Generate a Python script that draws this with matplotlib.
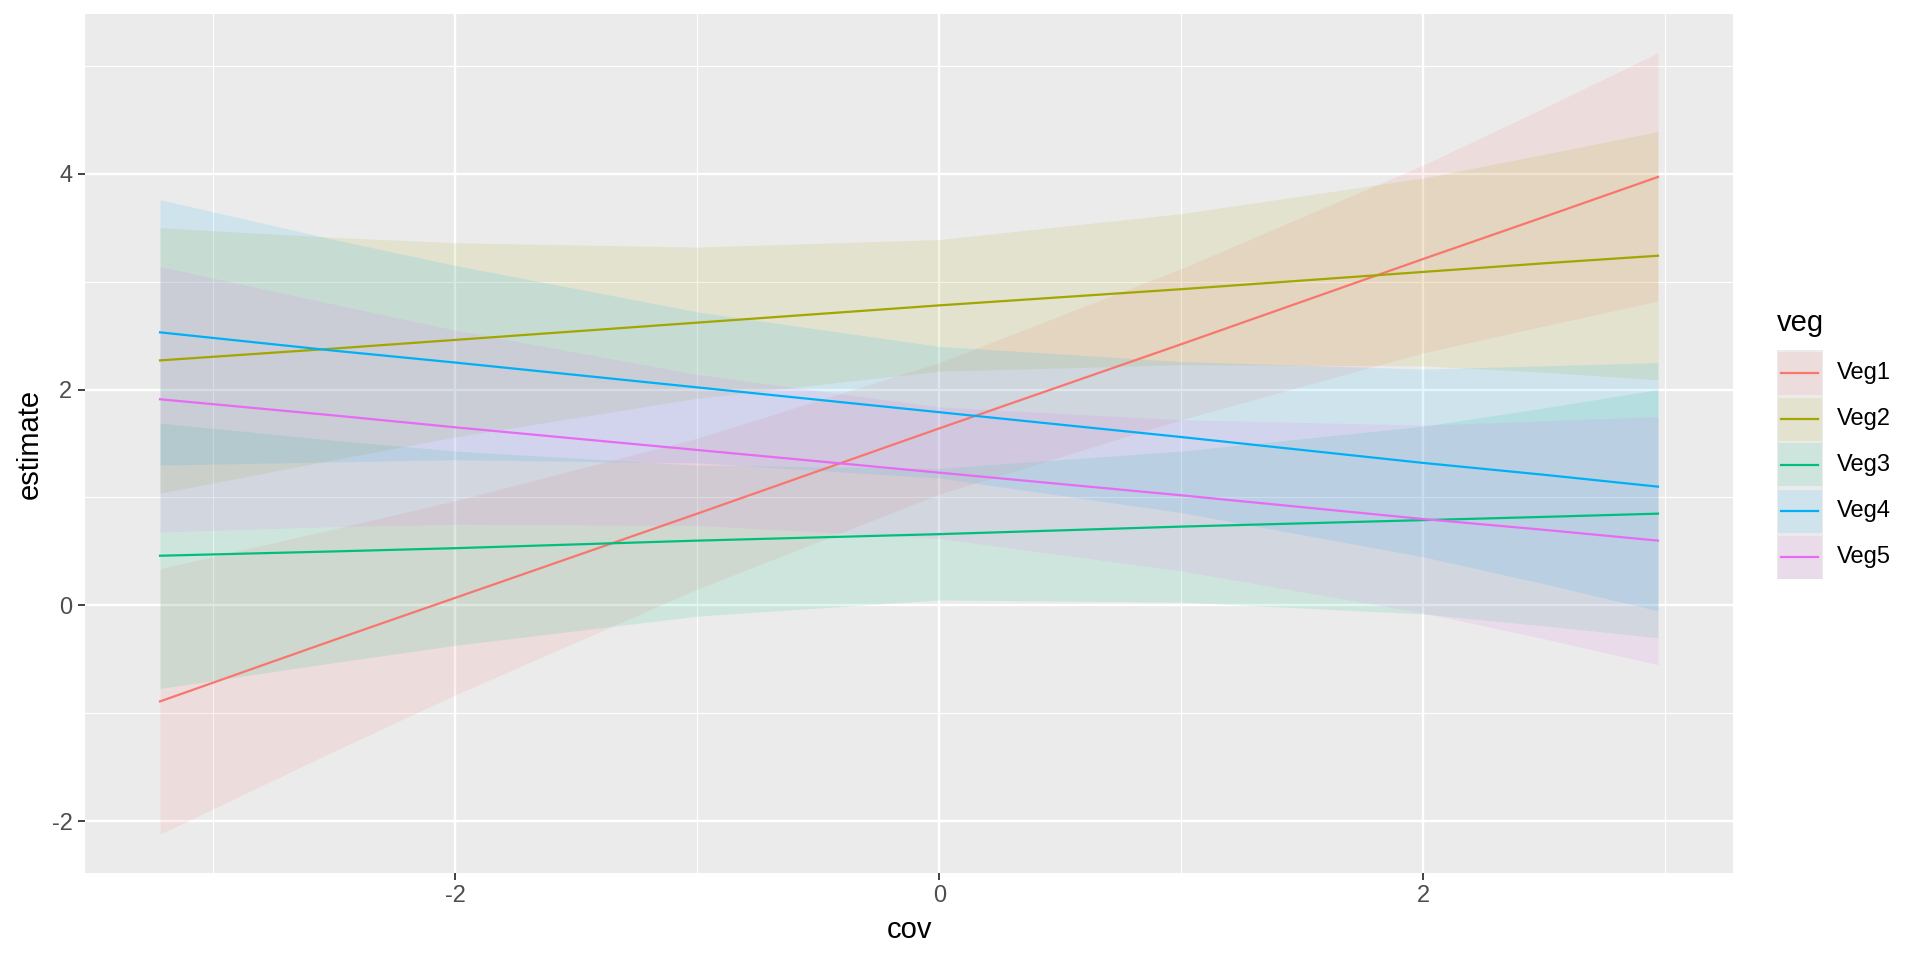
import matplotlib
matplotlib.use("Agg")
import matplotlib.pyplot as plt
from matplotlib.patches import Rectangle
from matplotlib.lines import Line2D

plt.rcParams['font.family'] = ['Liberation Sans', 'DejaVu Sans']

# ---- data ----
cov = [-3.22, -2.5, -2.0, -1.0, 0.0, 1.0, 2.0, 2.5, 2.97]
groups = ["Veg1", "Veg2", "Veg3", "Veg4", "Veg5"]

veg1_est = [-0.89, -0.32, 0.07, 0.85, 1.64, 2.42, 3.21, 3.60, 3.97]
veg1_low = [-2.12, -1.35, -0.83, 0.15, 1.03, 1.72, 2.34, 2.59, 2.82]
veg1_up = [0.34, 0.71, 0.97, 1.55, 2.25, 3.12, 4.08, 4.61, 5.12]

veg2_est = [2.27, 2.38, 2.46, 2.62, 2.78, 2.93, 3.09, 3.17, 3.24]
veg2_low = [1.04, 1.35, 1.56, 1.92, 2.17, 2.23, 2.22, 2.16, 2.09]
veg2_up = [3.50, 3.41, 3.36, 3.32, 3.39, 3.63, 3.96, 4.18, 4.39]

veg3_est = [0.46, 0.50, 0.53, 0.60, 0.66, 0.73, 0.79, 0.82, 0.85]
veg3_low = [-0.77, -0.53, -0.37, -0.10, 0.05, 0.03, -0.08, -0.19, -0.30]
veg3_up = [1.69, 1.53, 1.43, 1.30, 1.27, 1.43, 1.66, 1.83, 2.00]

veg4_est = [2.53, 2.36, 2.25, 2.02, 1.79, 1.56, 1.32, 1.21, 1.10]
veg4_low = [1.30, 1.33, 1.35, 1.32, 1.18, 0.86, 0.45, 0.20, -0.05]
veg4_up = [3.76, 3.39, 3.15, 2.72, 2.40, 2.26, 2.19, 2.22, 2.25]

veg5_est = [1.91, 1.76, 1.65, 1.44, 1.23, 1.02, 0.80, 0.70, 0.60]
veg5_low = [0.68, 0.73, 0.75, 0.74, 0.62, 0.32, -0.07, -0.31, -0.55]
veg5_up = [3.14, 2.79, 2.55, 2.14, 1.84, 1.72, 1.67, 1.71, 1.75]

estimates = [veg1_est, veg2_est, veg3_est, veg4_est, veg5_est]
lowers = [veg1_low, veg2_low, veg3_low, veg4_low, veg5_low]
uppers = [veg1_up, veg2_up, veg3_up, veg4_up, veg5_up]

colors = ["#F8766D", "#A3A500", "#00BF7D", "#00B0F6", "#E76BF3"]

x_ticks = [-2, 0, 2]
x_minor = [-3, -1, 1, 3]
y_ticks = [-2, 0, 2, 4]
y_minor = [-1, 1, 3, 5]

RIB_ALPHA = 0.12
W, H = 1920, 960

fig = plt.figure(figsize=(19.2, 9.6), dpi=100)
fig.patch.set_facecolor("white")
ax = fig.add_axes([85 / W, 1 - 873 / H, (1733 - 85) / W, (873 - 14) / H])
ax.set_facecolor("#EBEBEB")

for lo, up, c in zip(lowers, uppers, colors):
    ax.fill_between(cov, lo, up, color=c, alpha=RIB_ALPHA, linewidth=0, zorder=2)
for est, c in zip(estimates, colors):
    ax.plot(cov, est, color=c, linewidth=1.6, zorder=3)

ax.set_xlim(-3.53, 3.28)
ax.set_ylim(-2.48, 5.48)
ax.set_xticks(x_ticks)
ax.set_yticks(y_ticks)
ax.set_xticks(x_minor, minor=True)
ax.set_yticks(y_minor, minor=True)
ax.grid(which="major", color="white", linewidth=1.7, zorder=1)
ax.grid(which="minor", color="white", linewidth=0.85, zorder=1)
ax.set_axisbelow(True)
for s in ax.spines.values():
    s.set_visible(False)
ax.tick_params(which="major", length=5, width=1.3, color="#333333",
               labelsize=17, labelcolor="#4D4D4D", pad=4)
ax.tick_params(which="minor", length=0)
ax.set_xticklabels([str(t) for t in x_ticks])
ax.set_yticklabels([str(t) for t in y_ticks])
ax.set_xlabel("cov", fontsize=21, color="black", labelpad=6)
ax.set_ylabel("estimate", fontsize=21, color="black", labelpad=6)

# ---- legend (drawn in pixel coordinates of the figure) ----
def fx(px):
    return px / W

def fy(py):
    return 1 - py / H

fig.text(fx(1777), fy(323), "veg", fontsize=21, ha="left", va="center")
key_x0, key_x1 = 1777, 1823
fig.patches.append(Rectangle((fx(key_x0), fy(579)), fx(key_x1 - key_x0), (579 - 350) / H,
                             transform=fig.transFigure, facecolor="#EBEBEB",
                             edgecolor="none", zorder=1))
key_h = 46
top0 = 350
for i, (g, c) in enumerate(zip(groups, colors)):
    t = top0 + i * key_h + 1.5
    b = t + key_h - 3
    fig.patches.append(Rectangle((fx(key_x0 + 1), fy(b)), fx(key_x1 - key_x0 - 2), (b - t) / H,
                                 transform=fig.transFigure, facecolor=c, alpha=RIB_ALPHA,
                                 edgecolor="none", zorder=2))
    cy = (t + b) / 2
    fig.lines.append(Line2D([fx(1781), fx(1818)], [fy(cy), fy(cy)], transform=fig.transFigure,
                            color=c, linewidth=1.6, zorder=3))
    fig.text(fx(1837), fy(cy), g, fontsize=17, ha="left", va="center", color="black")

fig.savefig("out.png", dpi=100)
